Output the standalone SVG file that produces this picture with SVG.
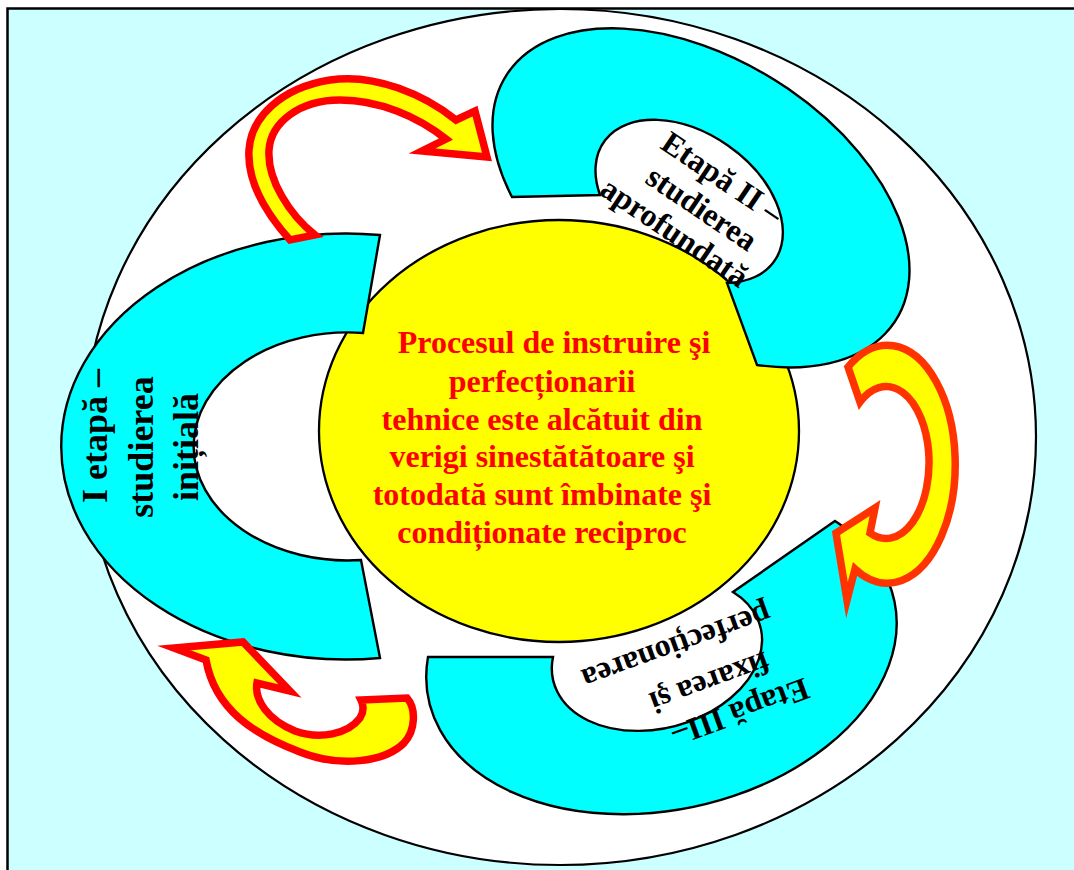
<svg xmlns="http://www.w3.org/2000/svg" width="1074" height="870" viewBox="0 0 1074 870">
<style>
.bg{fill:#CCFFFF;stroke:#000;stroke-width:2.5}
.oval{fill:#FFFFFF;stroke:#000;stroke-width:2.2}
.core{fill:#FFFF00;stroke:#000;stroke-width:2.3}
.ring{fill:#00FFFF;stroke:#000;stroke-width:2.4;stroke-linejoin:miter}
.lbl{font-family:"Liberation Serif","Times New Roman",serif;font-weight:bold;fill:#000;text-anchor:middle}
.ctr{font-family:"Liberation Serif","Times New Roman",serif;font-weight:bold;font-size:32px;fill:#FF0000;text-anchor:middle}
.arr{fill:#FFFF00;stroke-width:7.5;stroke-linejoin:miter;stroke-miterlimit:10}
.red{stroke:#FF0000}
.orange{stroke:#FF3300}
</style>
<rect class="bg" x="7.5" y="8.5" width="1090" height="890"/>
<g id="outer-oval"><ellipse class="oval" cx="560" cy="437" rx="476" ry="428"/></g>
<g id="center">
<ellipse class="core" cx="559" cy="431" rx="240" ry="211"/>
</g>
<g id="stage1">
<path class="ring" d="M380,235 A285,213 0 1 0 380,658 L361,560 A154,114 0 1 1 363,333 Z"/>
</g>
<g id="stage2">
<path class="ring" d="M512,197 A230,139 32 1 1 757,365 L727,283 A104,68 35 1 0 600,195 Z"/>
</g>
<g id="stage3">
<path class="ring" d="M428,657 A238,160 -12 1 0 835,521 L733,592 A107,74 -15 1 1 553,657 Z"/>
</g>
<g id="connectors">
<path class="arr red" d="M290,240 C265,212 247,180 249,150 C251,118 280,88 330,80 C375,73 425,95 456,120 L475,111 L487,157 L422,151 L446,139 C418,117 380,100 340,100 C300,100 271,122 269,150 C267,180 290,215 315,235 Z"/>
<path class="arr orange" d="M848,367 A68,119 0 1 1 855,569 L847,600 L836,533 L875,508 L870,533 A43,76 0 1 0 860,402 Z"/>
<path class="arr red" d="M407,698 C416,708 416,730 404,743 C385,762 340,768 300,752 C255,735 215,710 206,660 L174,648 L243,642 L290,691 L257,683 C254,700 268,720 295,731 C320,740 348,734 360,718 C365,710 363,704 361,700 Z"/>
</g>
<g id="center-text" class="ctr">
<text x="554" y="353">Procesul de instruire şi</text>
<text x="542" y="392">perfecționarii</text>
<text x="542" y="430">tehnice este alcătuit din</text>
<text x="542" y="467">verigi sinestătătoare şi</text>
<text x="542" y="505">totodată sunt îmbinate şi</text>
<text x="542" y="543">condiționate reciproc</text>
</g>
<g id="stage1-text" class="lbl" font-size="36">
<text transform="translate(107,436) rotate(-90)">I etapă –</text>
<text transform="translate(153,447) rotate(-90)">studierea</text>
<text transform="translate(198,447) rotate(-90)">inițială</text>
</g>
<g id="stage2-text" class="lbl" font-size="32" transform="translate(702,208) rotate(34)">
<text x="0" y="-26">Etapă II –</text>
<text x="0" y="11">studierea</text>
<text x="-9" y="46">aprofundată</text>
</g>
<g id="stage3-text" class="lbl" font-size="32" transform="translate(710,683) rotate(160)">
<text x="-19" y="-27">Etapă III–</text>
<text x="0" y="11">fixarea şi</text>
<text x="19" y="56">perfecționarea</text>
</g>
</svg>
